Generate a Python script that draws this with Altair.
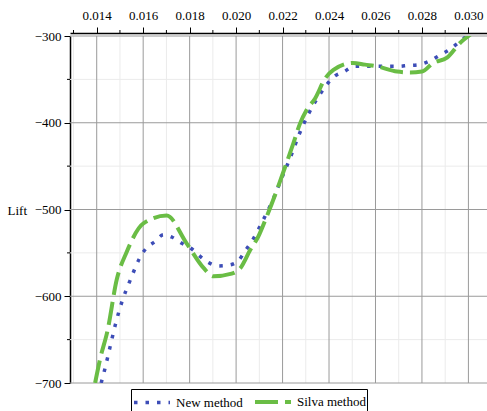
import altair as alt
import pandas as pd

# ---- data ----
series_names = ["New method", "Silva method"]

new_x = [0.01419, 0.01433, 0.01457, 0.01480, 0.01509, 0.01545, 0.01583, 0.01612,
         0.01650, 0.01687, 0.01725, 0.01767, 0.01807, 0.01845, 0.01880, 0.01926,
         0.01971, 0.02010, 0.02038, 0.02067, 0.02113, 0.02158, 0.02196, 0.02235,
         0.02272, 0.02315, 0.02364, 0.02426, 0.02465, 0.02508, 0.02555, 0.02650,
         0.02697, 0.02740, 0.02787, 0.02831, 0.02878, 0.02917, 0.02955, 0.02998]
new_y = [-700, -686, -659, -633, -606, -581, -557, -545,
         -537, -529, -532, -539, -545, -554, -561, -565,
         -564, -559, -548, -537, -514, -489, -464, -439,
         -413, -388, -366, -346, -341, -335, -335, -335,
         -335, -334, -333, -329, -322, -316, -308, -299]

silva_x = [0.01393, 0.01414, 0.01447, 0.01486, 0.01529, 0.01601, 0.01701, 0.01787,
           0.01859, 0.01902, 0.01981, 0.02017, 0.02060, 0.02096, 0.02132, 0.02175,
           0.02211, 0.02246, 0.02275, 0.02304, 0.02340, 0.02383, 0.02419, 0.02503,
           0.02555, 0.02607, 0.02693, 0.02749, 0.02800, 0.02848, 0.02908, 0.02964,
           0.03020]
silva_y = [-700, -673, -639, -581, -549, -516, -507, -539,
           -567, -577, -574, -568, -547, -531, -508, -478,
           -451, -424, -401, -385, -372, -349, -339, -331,
           -333, -335, -341, -342, -341, -331, -325, -308,
           -296]

x_major = [0.014, 0.016, 0.018, 0.020, 0.022, 0.024, 0.026, 0.028, 0.030]
x_minor = [0.013, 0.015, 0.017, 0.019, 0.021, 0.023, 0.025, 0.027, 0.029]
y_major = [-300, -400, -500, -600, -700]
y_minor = [-350, -450, -550, -650]

X_DOMAIN = [0.01285, 0.0308]
Y_DOMAIN = [-700, -300]

colors = ["#3d4db7", "#6abd45"]
dashes = [[3.5, 8], [23, 7]]
widths = [3.5, 4]

FONT = "Liberation Serif"

# ---- tables ----
df = pd.concat([
    pd.DataFrame({"x": new_x, "y": new_y, "series": series_names[0]}),
    pd.DataFrame({"x": silva_x, "y": silva_y, "series": series_names[1]}),
], ignore_index=True)
df_xmaj = pd.DataFrame({"x": x_major})
df_xmin = pd.DataFrame({"x": x_minor})
df_ymaj = pd.DataFrame({"y": y_major})
df_ymin = pd.DataFrame({"y": y_minor})

xs = alt.Scale(domain=X_DOMAIN, nice=False, zero=False)
ys = alt.Scale(domain=Y_DOMAIN, nice=False, zero=False)

x_axis = alt.Axis(orient="top", values=x_major, format=".3f", offset=3, tickSize=6,
                  tickColor="black", domainColor="black", domainWidth=1.5,
                  labelFont=FONT, labelFontSize=13, labelColor="black", labelPadding=5,
                  grid=False, title=None, labelFlush=False, labelOverlap=False)
y_axis = alt.Axis(values=y_major, format="d", tickSize=6, tickColor="black",
                  domainColor="black", domainWidth=1.5, labelFont=FONT,
                  labelFontSize=13, labelColor="black", labelPadding=3, grid=False,
                  title="Lift", titleAngle=0, titleX=-63, titleY=174,
                  titleAlign="left", titleBaseline="middle", titleFont=FONT,
                  titleFontSize=13, titleFontWeight="normal", titleColor="black",
                  labelFlush=False, labelOverlap=False)

X = alt.X("x:Q", scale=xs, axis=x_axis)
Y = alt.Y("y:Q", scale=ys, axis=y_axis)

grid_xmin = alt.Chart(df_xmin).mark_rule(color="#ebebeb", strokeWidth=1).encode(x=X)
grid_ymin = alt.Chart(df_ymin).mark_rule(color="#ebebeb", strokeWidth=1).encode(y=Y)
grid_xmaj = alt.Chart(df_xmaj).mark_rule(color="#9a9a9a", strokeWidth=1).encode(x=X)
grid_ymaj = alt.Chart(df_ymaj).mark_rule(color="#9a9a9a", strokeWidth=1).encode(y=Y)

tick_xmin = alt.Chart(df_xmin).mark_rule(color="black", strokeWidth=1).encode(
    x=X, y=alt.value(-6), y2=alt.value(-3))
tick_ymin = alt.Chart(df_ymin).mark_rule(color="black", strokeWidth=1).encode(
    y=Y, x=alt.value(-3), x2=alt.value(0))

# long horizontal legend stroke, drawn in a compact (20px) entry
leg = alt.Legend(title=None, orient="none", legendX=61, legendY=353,
                 direction="horizontal", symbolType="M-1,0H2.6", symbolSize=400,
                 symbolStrokeWidth=3.5, labelFont=FONT, labelFontSize=13,
                 labelColor="black", strokeColor="black", padding=1,
                 columnPadding=4, labelOffset=20, fillColor="white")

lines = alt.Chart(df).mark_line(interpolate="monotone", clip=True).encode(
    x=X, y=Y,
    color=alt.Color("series:N", scale=alt.Scale(domain=series_names, range=colors), legend=leg),
    strokeDash=alt.StrokeDash("series:N", scale=alt.Scale(domain=series_names, range=dashes), legend=leg),
    strokeWidth=alt.StrokeWidth("series:N", scale=alt.Scale(domain=series_names, range=widths), legend=None),
)

chart = alt.layer(
    grid_xmin, grid_ymin, grid_xmaj, grid_ymaj, tick_xmin, tick_ymin, lines
).properties(
    width=417, height=347,
    autosize=alt.AutoSizeParams(type="none"),
    padding={"left": 70, "top": 36, "right": 0, "bottom": 28},
    background="white",
).configure_view(strokeWidth=0)

chart.save("out.html", embed_options={"renderer": "svg", "actions": False})
